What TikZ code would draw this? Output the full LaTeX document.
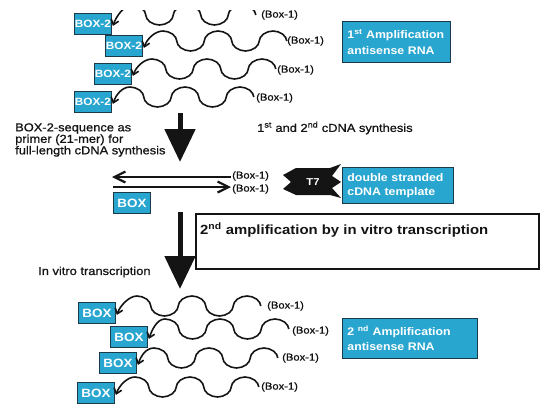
\documentclass[tikz,border=0pt]{standalone}
\usepackage{fontspec}
\setmainfont{Liberation Sans}[FakeStretch=1.12]
\newfontfamily\labelfont{Liberation Sans}[FakeStretch=1.12,FakeBold=0.9]
\usetikzlibrary{arrows.meta}
\definecolor{boxcyan}{RGB}{41,166,208}
\definecolor{boxedge}{RGB}{28,58,72}
\definecolor{ink}{RGB}{20,20,20}
\newcommand{\crz}{.. controls +(7.2,0) and +(0,-5.0) .. ++(13.75,10)}
\newcommand{\zrt}{.. controls +(0,5.0) and +(-7.2,0) .. ++(13.75,10)}
\newcommand{\trz}{.. controls +(7.2,0) and +(0,5.0) .. ++(13.75,-10)}
\newcommand{\zrc}{.. controls +(0,-5.0) and +(-7.2,0) .. ++(13.75,-10)}
\newcommand{\rnastrand}[3]{\draw[strand] ([shift={(1,2)}]#1.east) .. controls +(3,-9) and +(-8,0) .. (#2,#3-10) \crz\zrt\trz\zrc\crz\zrt\trz\zrc\crz;}
\begin{document}
\begin{tikzpicture}[x=1pt,y=-1pt,
  primerbox/.style={fill=boxcyan,draw=boxedge,line width=0.9pt,text=white,font=\bfseries\fontsize{10.5}{11}\selectfont,minimum width=37pt,minimum height=21pt,inner sep=0pt,anchor=north west},
  boxbox/.style={primerbox,font=\bfseries\fontsize{12}{13}\selectfont},
  infobox/.style={fill=boxcyan,draw=boxedge,line width=0.9pt,text=white,align=left,anchor=north west,inner xsep=5pt,inner ysep=0pt},
  boxone/.style={anchor=west,inner sep=1pt,text=ink,font=\labelfont\fontsize{10}{11}\selectfont},
  lbl/.style={anchor=west,inner sep=1pt,text=ink,align=left,font=\labelfont\fontsize{11.5}{11.5}\selectfont},
  strand/.style={draw=ink,line width=1.6pt,{Straight Barb[length=5pt,width=8pt]}-},
  dsarrow/.style={draw=ink,line width=2.2pt,-{Straight Barb[length=11pt,width=11pt]}},
  bigarrow/.style={draw=ink,line width=5pt,-{Triangle[length=33pt,width=30pt]}}]
\useasboundingbox (0,0) rectangle (550,415);

% ---- first amplification strands ----
\node[primerbox] (p1) at (74,13) {BOX-2};
\node[primerbox] (p2) at (105,35) {BOX-2};
\node[primerbox] (p3) at (94,63) {BOX-2};
\node[primerbox] (p4) at (74,91) {BOX-2};
\begin{scope}
\clip (0,10) rectangle (550,415);
\rnastrand{p1}{132}{15}
\end{scope}
\rnastrand{p2}{163}{41}
\rnastrand{p3}{152}{69}
\rnastrand{p4}{130}{97}
\node[boxone] (r1) at (260,15) {(Box-1)};
\node[boxone] (r2) at (286,41) {(Box-1)};
\node[boxone] (r3) at (276,70) {(Box-1)};
\node[boxone] (r4) at (255,98) {(Box-1)};
\node[infobox,text width=98pt,minimum height=41pt,font=\bfseries\fontsize{11}{16}\selectfont] (amp1) at (342,21) {1\textsuperscript{st} Amplification\\antisense RNA};

% ---- cDNA synthesis ----
\coordinate (a1s) at (180,113);
\coordinate (a1e) at (180,162);
\draw[bigarrow] (a1s) -- (a1e);
\node[lbl] (primerlbl) at (14,140) {BOX-2-sequence as\\primer (21-mer) for\\full-length cDNA synthesis};
\node[lbl] (cdna) at (256,128) {1\textsuperscript{st} and 2\textsuperscript{nd} cDNA synthesis};

\node[boxone] (d1) at (231,176) {(Box-1)};
\node[boxone] (d2) at (231,189) {(Box-1)};
\coordinate (dl) at (112,177);
\coordinate (dr) at (113,187);
\draw[dsarrow] ([yshift=-1pt]d1.west) -- (dl);
\draw[dsarrow] (dr) -- ([yshift=2pt]d2.west);
\node[boxbox] (box0) at (113,192) {BOX};

\fill[ink] (296,168) -- (330,168) -- (341,164) -- (332,176) -- (341,182) -- (332,188) -- (341,198) -- (330,195) -- (296,195) -- (283,189) -- (291,182) -- (283,175) -- cycle;
\node[text=white,font=\bfseries\fontsize{10}{11}\selectfont,inner sep=0pt] (t7) at (313,182) {T7};
\node[infobox,text width=101pt,minimum height=36pt,font=\bfseries\fontsize{11}{14}\selectfont] (dsc) at (342,167) {double stranded\\cDNA template};

% ---- second amplification ----
\node[draw=ink,line width=1.6pt,minimum width=343pt,minimum height=55pt,anchor=north west,inner sep=0pt] (tbox) at (195,213) {};
\node[anchor=west,inner sep=1pt,text=ink,font=\bfseries\fontsize{13.3}{15}\selectfont] (title) at (199,230) {2\textsuperscript{nd} amplification by in vitro transcription};
\coordinate (a2s) at (180,212);
\coordinate (a2e) at (180,289);
\draw[bigarrow] (a2s) -- (a2e);
\node[lbl] (ivt) at (37,272) {In vitro transcription};

\node[boxbox] (q1) at (78,302) {BOX};
\node[boxbox] (q2) at (110,326) {BOX};
\node[boxbox] (q3) at (99,352) {BOX};
\node[boxbox] (q4) at (77,382) {BOX};
\rnastrand{q1}{137}{306}
\rnastrand{q2}{165}{329}
\rnastrand{q3}{154}{358}
\rnastrand{q4}{135}{387}
\node[boxone] (s1) at (266,306) {(Box-1)};
\node[boxone] (s2) at (291,331) {(Box-1)};
\node[boxone] (s3) at (281,358) {(Box-1)};
\node[boxone] (s4) at (260,387) {(Box-1)};
\node[infobox,text width=125pt,minimum height=40pt,font=\bfseries\fontsize{11}{15}\selectfont] (amp2) at (342,318) {2 \textsuperscript{nd} Amplification\\antisense RNA};
\end{tikzpicture}
\end{document}
